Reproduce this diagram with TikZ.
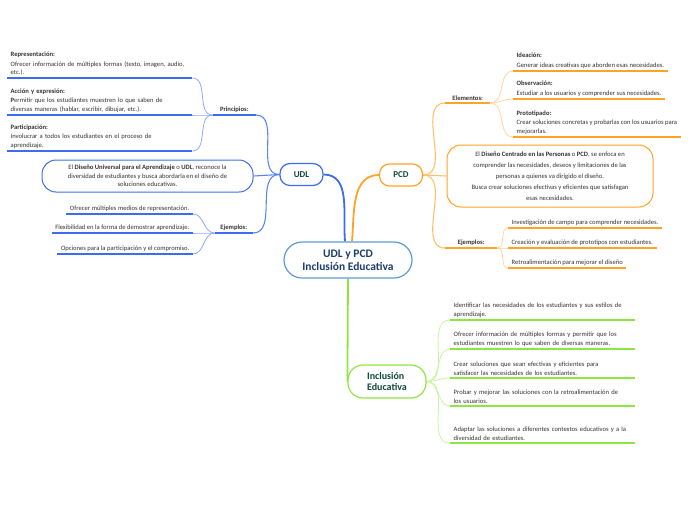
\documentclass[tikz,border=0pt]{standalone}
\usepackage{fontspec}
\setmainfont{Carlito}
\usetikzlibrary{backgrounds}
\definecolor{udlb}{HTML}{3D6CF0}
\definecolor{udlbm}{HTML}{5A85F5}
\definecolor{udlbl}{HTML}{8FABF8}
\definecolor{org}{HTML}{FFA326}
\definecolor{orgm}{HTML}{FFC066}
\definecolor{orgl}{HTML}{FFD79E}
\definecolor{grn}{HTML}{8FE642}
\definecolor{grnl}{HTML}{C6F59E}
\definecolor{cblue}{HTML}{5B9BD5}
\definecolor{ctext}{HTML}{1F3D6B}
\definecolor{ntext}{HTML}{0E4A3B}
\definecolor{itext}{HTML}{333333}
\tikzset{
  central/.style={draw=cblue, line width=1.2pt, fill=white, rounded corners=18pt, minimum width=128pt, minimum height=36pt, align=center, text=ctext, font=\fontsize{11.5}{13}\selectfont\bfseries},
  topic/.style={line width=1.2pt, fill=white, rounded corners=10pt, minimum width=43pt, minimum height=22pt, text=ntext, font=\fontsize{9}{10}\selectfont\bfseries},
  inclnode/.style={draw=grn, line width=1.2pt, fill=white, rounded corners=15pt, minimum width=78pt, minimum height=33pt, align=left, text=ntext, font=\fontsize{10}{11.5}\selectfont\bfseries},
  item/.style={font=\fontsize{6.6}{8.3}\selectfont, text=itext, inner xsep=3.5pt, inner ysep=2.5pt, align=left},
  head/.style={font=\fontsize{6.6}{8.3}\selectfont\bfseries, text=itext, inner xsep=3pt, inner ysep=2.5pt, align=center},
  descbox/.style={line width=1pt, fill=white, rounded corners=14pt, align=center, text=itext},
  ulb/.style={draw=udlb, line width=1.6pt},
  ulo/.style={draw=org, line width=1.6pt},
  ulg/.style={draw=grn, line width=1.6pt},
  mainb/.style={draw=udlb, line width=1.8pt},
  maino/.style={draw=org, line width=1.8pt},
  maing/.style={draw=grn, line width=1.8pt},
  subb/.style={draw=udlbm, line width=1.1pt},
  subo/.style={draw=orgm, line width=1.1pt},
  leafb/.style={draw=udlbl, line width=0.8pt},
  leafo/.style={draw=orgl, line width=0.8pt},
  leafg/.style={draw=grnl, line width=0.8pt},
}
\begin{document}
\begin{tikzpicture}[x=1pt,y=1pt]
\useasboundingbox (0,0) rectangle (696,-520);
% main nodes
\node[central] (c) at (348,-260) {UDL y PCD\\Inclusión Educativa};
\node[topic, draw=udlb] (udl) at (301.5,-174.5) {UDL};
\node[topic, draw=org] (pcd) at (401,-175) {PCD};
\node[inclnode] (inc) at (387,-381.5) {Inclusión\\Educativa};

% UDL branch
\node[head, anchor=south east, minimum width=43pt] (princ) at (256,-115) {Principios:};
\node[item, anchor=south west, text width=178pt] (p1) at (7,-78) {\textbf{Representación:}\\[1.5pt]Ofrecer información de múltiples formas (texto, imagen, audio,\\etc.).};
\node[item, anchor=south west, text width=178pt] (p2) at (7,-115) {\textbf{Acción y expresión:}\\[1.5pt]\textbf{P}ermitir que los estudiantes muestren lo que saben de\\diversas maneras (hablar, escribir, dibujar, etc.).};
\node[item, anchor=south west, text width=178pt] (p3) at (7,-151) {\textbf{Participación:}\\[1.5pt]Involucrar a todos los estudiantes en el proceso de\\aprendizaje.};
\node[descbox, draw=udlb, minimum width=211pt, minimum height=32pt, font=\fontsize{6.6}{8.5}\selectfont] (ud) at (147.5,-176) {El \textbf{Diseño Universal para el Aprendizaje} o \textbf{UDL}, reconoce la\\diversidad de estudiantes y busca abordarla en el diseño de\\soluciones educativas.};
\node[head, anchor=south east, minimum width=38pt] (uej) at (253,-233) {Ejemplos:};
\node[item, anchor=south east] (ue1) at (193,-214) {Ofrecer múltiples medios de representación.};
\node[item, anchor=south east] (ue2) at (193,-233) {Flexibilidad en la forma de demostrar aprendizaje.};
\node[item, anchor=south east] (ue3) at (193,-254) {Opciones para la participación y el compromiso.};

% PCD branch
\node[head, anchor=south west, minimum width=45pt] (elem) at (445,-103) {Elementos:};
\node[item, anchor=south west] (e1) at (513,-71) {\textbf{Ideación:}\\[1pt]Generar ideas creativas que aborden esas necesidades.};
\node[item, anchor=south west] (e2) at (513,-99) {\textbf{Observación:}\\[1pt]Estudiar a los usuarios y comprender sus necesidades.};
\node[item, anchor=south west] (e3) at (513,-137) {\textbf{Prototipado:}\\[1pt]Crear soluciones concretas y probarlas con los usuarios para\\mejorarlas.};
\node[descbox, draw=org, minimum width=206pt, minimum height=62pt, font=\fontsize{6.6}{11}\selectfont] (pd) at (550,-176) {El \textbf{Diseño Centrado en las Personas} o \textbf{PCD}, se enfoca en\\comprender las necesidades, deseos y limitaciones de las\\personas a quienes va dirigido el diseño.\\Busca crear soluciones efectivas y eficientes que satisfagan\\esas necesidades.};
\node[head, anchor=south west, minimum width=52pt] (pej) at (445,-248) {Ejemplos:};
\node[item, anchor=south west] (pe1) at (508,-228) {Investigación de campo para comprender necesidades.};
\node[item, anchor=south west] (pe2) at (508,-248) {Creación y evaluación de prototipos con estudiantes.};
\node[item, anchor=south west] (pe3) at (508,-268) {Retroalimentación para mejorar el diseño};

% Inclusion branch
\node[item, anchor=south west, text width=178pt] (i1) at (450,-320) {Identificar las necesidades de los estudiantes y sus estilos de\\aprendizaje.};
\node[item, anchor=south west, text width=178pt] (i2) at (450,-349) {Ofrecer información de múltiples formas y permitir que los\\estudiantes muestren lo que saben de diversas maneras.};
\node[item, anchor=south west, text width=178pt] (i3) at (450,-378) {Crear soluciones que sean efectivas y eficientes para\\satisfacer las necesidades de los estudiantes.};
\node[item, anchor=south west, text width=178pt] (i4) at (450,-406) {Probar y mejorar las soluciones con la retroalimentación de\\los usuarios.};
\node[item, anchor=south west, text width=178pt] (i5) at (450,-443) {Adaptar las soluciones a diferentes contextos educativos y a la\\diversidad de estudiantes.};

% underlines
\foreach \n in {princ,p1,p2,p3,uej,ue1,ue2,ue3} \draw[ulb] (\n.south west) -- (\n.south east);
\foreach \n in {elem,e1,e2,e3,pej,pe1,pe2,pe3} \draw[ulo] (\n.south west) -- (\n.south east);
\foreach \n in {i1,i2,i3,i4,i5} \draw[ulg] (\n.south west) -- (\n.south east);

% connectors
\begin{scope}[on background layer]
\draw[mainb] (udl.east) to[out=0,in=95] ([xshift=-3pt]c.north);
\draw[maino] ([xshift=4pt]c.north) to[out=85,in=180] (pcd.west);
\draw[maing] (c.south) -- (inc.west);
\draw[subb] (udl.west) to[out=180,in=0] (princ.south east);
\draw[subb] (udl.west) -- (ud.east);
\draw[subb] (udl.west) to[out=180,in=0] (uej.south east);
\foreach \n in {p1,p2,p3} \draw[leafb] (princ.south west) to[out=180,in=0] (\n.south east);
\foreach \n in {ue1,ue2,ue3} \draw[leafb] (uej.south west) to[out=180,in=0] (\n.south east);
\draw[subo] (pcd.east) to[out=0,in=180] (elem.south west);
\draw[subo] (pcd.east) -- (pd.west);
\draw[subo] (pcd.east) to[out=0,in=180] (pej.south west);
\foreach \n in {e1,e2,e3} \draw[leafo] (elem.south east) to[out=0,in=180] (\n.south west);
\foreach \n in {pe1,pe2,pe3} \draw[leafo] (pej.south east) to[out=0,in=180] (\n.south west);
\foreach \n in {i1,i2,i3,i4,i5} \draw[leafg] (inc.east) to[out=0,in=180] (\n.south west);
\end{scope}
\end{tikzpicture}
\end{document}
